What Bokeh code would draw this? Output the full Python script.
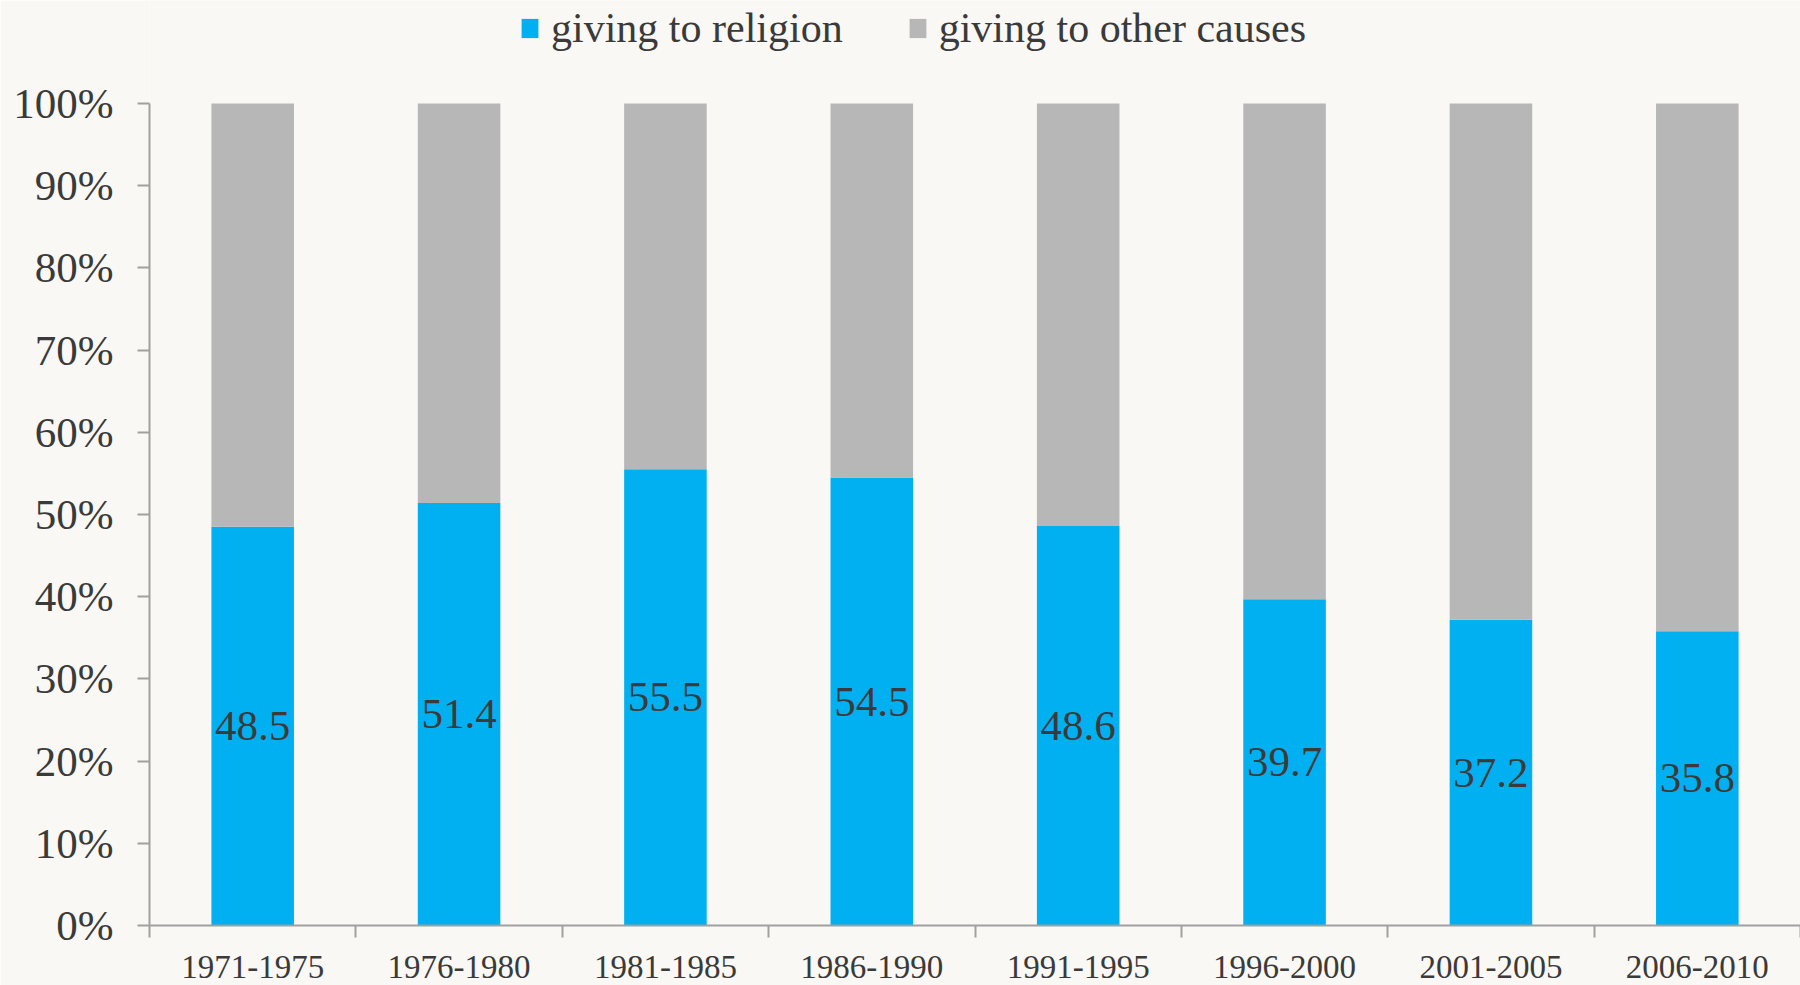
from bokeh.plotting import figure
from bokeh.models import (ColumnDataSource, FixedTicker, Legend, LegendItem,
                          PrintfTickFormatter, Range1d, LabelSet)
from bokeh.embed import file_html
from bokeh.resources import INLINE

periods = ["1971-1975", "1976-1980", "1981-1985", "1986-1990",
           "1991-1995", "1996-2000", "2001-2005", "2006-2010"]
religion = [48.5, 51.4, 55.5, 54.5, 48.6, 39.7, 37.2, 35.8]
other = [round(100 - v, 1) for v in religion]
y_ticks = [0, 10, 20, 30, 40, 50, 60, 70, 80, 90, 100]

FONT = "Liberation Serif"
TXT = "#3a3a3a"
AX = "#a0a0a0"
BG = "#f9f8f4"

# geometry: frame runs from the top of the canvas to the x axis (y=925);
# the 0-100 scale occupies y=103..925, the legend sits above 100% inside the frame
FRAME_BOTTOM = 925
TOP_100 = 103
y_end = 100 * FRAME_BOTTOM / (FRAME_BOTTOM - TOP_100)

xc = [i + 0.5 for i in range(len(periods))]
src = ColumnDataSource(dict(
    x=xc, religion=religion, other=other,
    mid=[v / 2 for v in religion],
    lab=[f"{v:.1f}" for v in religion],
))

p = figure(width=1800, height=985, output_backend="svg",
           toolbar_location=None,
           x_range=Range1d(0, len(periods)), y_range=Range1d(0, y_end),
           min_border_left=149, min_border_right=0, min_border_top=0,
           min_border_bottom=985 - FRAME_BOTTOM, background_fill_color=BG,
           border_fill_color=BG, outline_line_color=None)

rs = p.vbar_stack(["religion", "other"], x="x", width=0.4, source=src,
                  color=["#00b0f0", "#b7b7b7"], line_color=None)

labels = LabelSet(x="x", y="mid", text="lab", source=src,
                  text_align="center", text_baseline="middle",
                  text_font=FONT, text_font_size="43px", text_color=TXT)
p.add_layout(labels)

p.xgrid.visible = False
p.ygrid.visible = False

# x axis: labels at centres, tick marks at category boundaries
xa = p.xaxis[0]
xa.ticker = FixedTicker(ticks=xc, minor_ticks=list(range(len(periods) + 1)))
xa.major_label_overrides = {x: lab for x, lab in zip(xc, periods)}
xa.major_tick_line_color = None
xa.major_tick_out = 0
xa.major_tick_in = 0
xa.minor_tick_line_color = AX
xa.minor_tick_line_width = 2
xa.minor_tick_out = 12
xa.minor_tick_in = 0
xa.axis_line_color = AX
xa.axis_line_width = 2
xa.major_label_text_font = FONT
xa.major_label_text_font_size = "33px"
xa.major_label_text_color = TXT
xa.major_label_standoff = 18

ya = p.yaxis[0]
ya.ticker = FixedTicker(ticks=y_ticks)
ya.bounds = (0, 100)
ya.formatter = PrintfTickFormatter(format="%d%%")
ya.minor_tick_line_color = None
ya.major_tick_line_color = AX
ya.major_tick_line_width = 2
ya.major_tick_out = 12
ya.major_tick_in = 0
ya.axis_line_color = AX
ya.axis_line_width = 2
ya.major_label_text_font = FONT
ya.major_label_text_font_size = "43px"
ya.major_label_text_color = TXT
ya.major_label_standoff = 24

legend = Legend(items=[LegendItem(label="giving to religion", renderers=[rs[0]]),
                       LegendItem(label="giving to other causes", renderers=[rs[1]])],
                orientation="horizontal", location=(370, FRAME_BOTTOM - 52),
                glyph_width=21, glyph_height=24, label_standoff=11, spacing=64,
                padding=0, margin=0, border_line_color=None,
                background_fill_alpha=0,
                label_text_font=FONT, label_text_font_size="42px",
                label_text_color=TXT, label_text_baseline="middle")
p.add_layout(legend)

open("out.html", "w").write(file_html(p, INLINE))
